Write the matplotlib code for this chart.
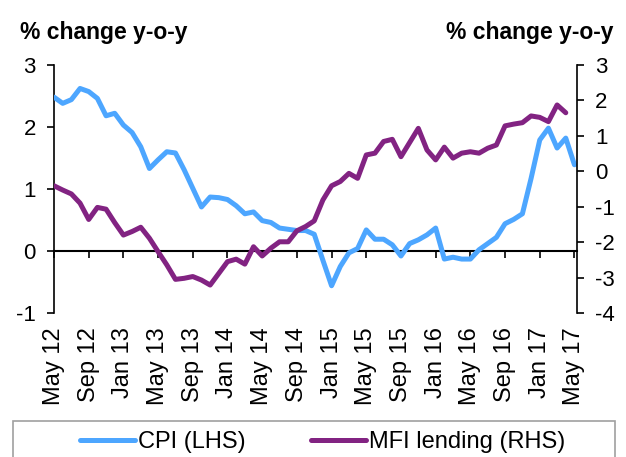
import numpy as np
import matplotlib
matplotlib.use('Agg')
import matplotlib.pyplot as plt
from matplotlib.patches import Rectangle

# Monthly data, May 2012 - May 2017
cpi = [2.48, 2.38, 2.44, 2.62, 2.57, 2.46, 2.18, 2.22, 2.03, 1.91,
       1.68, 1.33, 1.47, 1.60, 1.58, 1.31, 1.01, 0.71, 0.87, 0.86,
       0.83, 0.73, 0.60, 0.63, 0.49, 0.46, 0.37, 0.35, 0.33, 0.33,
       0.27, -0.15, -0.56, -0.25, -0.03, 0.04, 0.34, 0.19, 0.19, 0.10,
       -0.08, 0.12, 0.18, 0.26, 0.37, -0.13, -0.10, -0.13, -0.13, 0.02,
       0.12, 0.22, 0.44, 0.51, 0.60, 1.17, 1.79, 1.98, 1.66, 1.82,
       1.39]
mfi = [-0.41, -0.53, -0.64, -0.90, -1.36, -1.02, -1.07, -1.45, -1.80, -1.70,
       -1.58, -1.89, -2.27, -2.64, -3.05, -3.02, -2.97, -3.07, -3.21, -2.88,
       -2.55, -2.48, -2.62, -2.13, -2.39, -2.17, -1.99, -1.99, -1.68, -1.56,
       -1.40, -0.81, -0.41, -0.29, -0.06, -0.20, 0.46, 0.51, 0.84, 0.90,
       0.41, 0.81, 1.21, 0.60, 0.32, 0.68, 0.37, 0.51, 0.55, 0.51,
       0.65, 0.74, 1.28, 1.33, 1.37, 1.56, 1.52, 1.40, 1.87, 1.65]
tick_labels = ['May 12', 'Sep 12', 'Jan 13', 'May 13', 'Sep 13', 'Jan 14',
               'May 14', 'Sep 14', 'Jan 15', 'May 15', 'Sep 15', 'Jan 16',
               'May 16', 'Sep 16', 'Jan 17', 'May 17']

plt.rcParams['font.family'] = ['Liberation Sans', 'DejaVu Sans']
plt.rcParams['axes.unicode_minus'] = False

CPI_COLOR = '#4da6ff'
MFI_COLOR = '#822382'

fig = plt.figure(figsize=(6.26, 4.57), dpi=100)
ax = fig.add_axes([0.0863, 0.315, 0.8355, 0.543])
ax2 = ax.twinx()

x_cpi = np.arange(len(cpi))
x_mfi = np.arange(len(mfi))
ax.plot(x_cpi, cpi, color=CPI_COLOR, lw=3.6, solid_joinstyle='round',
        solid_capstyle='round', label='CPI (LHS)', zorder=3)
ax2.plot(x_mfi, mfi, color=MFI_COLOR, lw=3.6, solid_joinstyle='round',
         solid_capstyle='round', label='MFI lending (RHS)', zorder=3)

ax.set_xlim(0, 60.3)
ax.set_ylim(-1, 3)
ax2.set_ylim(-4, 3)
ax.set_yticks(range(-1, 4))
ax2.set_yticks(range(-4, 4))

# x axis runs through zero on the left scale
ax.spines['bottom'].set_position(('data', 0))
ax.spines['bottom'].set_linewidth(1.5)
ax.spines['top'].set_visible(False)
ax.spines['right'].set_visible(False)
ax.spines['left'].set_linewidth(1.2)
for s in ['top', 'bottom', 'left']:
    ax2.spines[s].set_visible(False)
ax2.spines['right'].set_linewidth(1.2)

ax.set_xticks(np.arange(0, 61, 4))
ax.tick_params(axis='x', direction='out', length=5, width=1.2,
               labelbottom=False)
ax.tick_params(axis='y', direction='out', length=5, width=1.2,
               labelsize=16, pad=8)
ax2.tick_params(axis='y', direction='out', length=5, width=1.2,
                labelsize=16, pad=8)

# date labels at the bottom of the plot area
sec = ax.secondary_xaxis(0)
sec.set_xticks(np.arange(0, 61, 4))
sec.set_xticklabels(tick_labels, rotation=90, fontsize=17)
sec.tick_params(length=0, pad=10)
sec.spines['bottom'].set_visible(False)

fig.text(0.032, 0.928, '% change y-o-y', fontsize=16.5, fontweight='bold',
         ha='left', va='center')
fig.text(0.98, 0.928, '% change y-o-y', fontsize=16.5, fontweight='bold',
         ha='right', va='center')

# legend box runs off the bottom of the image
box = Rectangle((0.0208, -0.06), 0.9617, 0.1388, transform=fig.transFigure,
                facecolor='white', edgecolor='#a0a0a0', lw=1.2, clip_on=False)
fig.add_artist(box)

h1, l1 = ax.get_legend_handles_labels()
h2, l2 = ax2.get_legend_handles_labels()
leg = fig.legend(h1 + h2, l1 + l2, loc='center',
                 bbox_to_anchor=(0.515, 0.033), ncol=2, fontsize=17,
                 frameon=False, handlelength=2.33, handletextpad=0.13,
                 columnspacing=2.75, borderpad=0, borderaxespad=0)

fig.savefig('out.png', dpi=100, facecolor='white')
